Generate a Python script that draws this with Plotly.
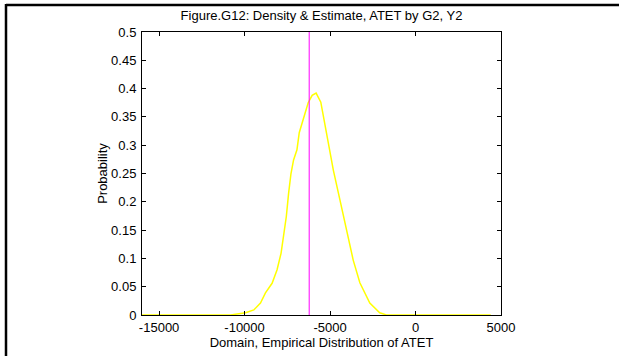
import plotly.graph_objects as go

# Density curve
density_x = [-16000, -10814, -9942, -9459, -9070, -8779, -8390, -8099, -7866, -7715,
             -7558, -7425, -7285, -7134, -6936, -6802, -6453, -6279, -6047, -5814,
             -5541, -5349, -5116, -5000, -4808, -4419, -4029, -3645, -3256, -2674,
             -2093, -1703, 4400]
density_y = [0.0, 0.0, 0.004, 0.009, 0.021, 0.039, 0.056, 0.080, 0.109, 0.138,
             0.174, 0.215, 0.250, 0.274, 0.292, 0.322, 0.357, 0.375, 0.388, 0.392,
             0.376, 0.345, 0.309, 0.290, 0.256, 0.203, 0.150, 0.097, 0.057, 0.021,
             0.004, 0.0, 0.0]

estimate_x = [-6220, -6220]
estimate_y = [0.0, 0.5]

x_ticks = [-15000, -10000, -5000, 0, 5000]
x_ticklabels = ["-15000", "-10000", "-5000", "0", "5000"]
y_ticks = [0, 0.05, 0.1, 0.15, 0.2, 0.25, 0.3, 0.35, 0.4, 0.45, 0.5]
y_ticklabels = ["0", "0.05", "0.1", "0.15", "0.2", "0.25", "0.3", "0.35", "0.4", "0.45", "0.5"]

W, H = 619, 356
L, R, T, B = 142, 501, 32, 315

fig = go.Figure()
fig.add_trace(go.Scatter(x=density_x, y=density_y, mode="lines",
                         line=dict(color="#ffff00", width=1.5), showlegend=False))
fig.add_trace(go.Scatter(x=estimate_x, y=estimate_y, mode="lines",
                         line=dict(color="#ff00ff", width=1), showlegend=False))

def px2paper_x(px):
    return (px - L) / (R - L)

def px2paper_y(py):
    return (B - py) / (B - T)

FAM = "Liberation Sans, Arial, sans-serif"
font13 = dict(family=FAM, size=13, color="black")

fig.update_layout(
    width=W, height=H,
    margin=dict(l=L, r=W - R, t=T, b=H - B, pad=0, autoexpand=False),
    paper_bgcolor="white", plot_bgcolor="white",
    font=font13,
    title=dict(text="Figure.G12: Density & Estimate, ATET by G2, Y2",
               x=px2paper_x((L + R) / 2), xref="paper", xanchor="center",
               y=1 - 15 / H, yref="container", yanchor="middle",
               font=font13, automargin=False),
    xaxis=dict(range=[-16000, 5000], tickvals=x_ticks, ticktext=x_ticklabels,
               showgrid=False, zeroline=False, showline=True, linecolor="black",
               linewidth=1, mirror="ticks", ticks="inside", ticklen=4, tickcolor="black",
               ticklabelstandoff=0, automargin=False,
               title=dict(text="Domain, Empirical Distribution of ATET", standoff=0, font=font13),
               tickfont=font13),
    yaxis=dict(range=[0, 0.5], tickvals=y_ticks, ticktext=y_ticklabels,
               showgrid=False, zeroline=False, showline=True, linecolor="black",
               linewidth=1, mirror="ticks", ticks="inside", ticklen=4, tickcolor="black",
               ticklabelstandoff=2, automargin=False,
               title=dict(text="Probability", standoff=0, font=font13),
               tickfont=font13),
    shapes=[
        dict(type="line", xref="paper", yref="paper",
             x0=px2paper_x(6), x1=px2paper_x(619), y0=px2paper_y(5), y1=px2paper_y(5),
             line=dict(color="black", width=2.5)),
        dict(type="line", xref="paper", yref="paper",
             x0=px2paper_x(6), x1=px2paper_x(6), y0=px2paper_y(4), y1=px2paper_y(356),
             line=dict(color="black", width=2.5)),
    ],
)

fig.write_html("out.html")
